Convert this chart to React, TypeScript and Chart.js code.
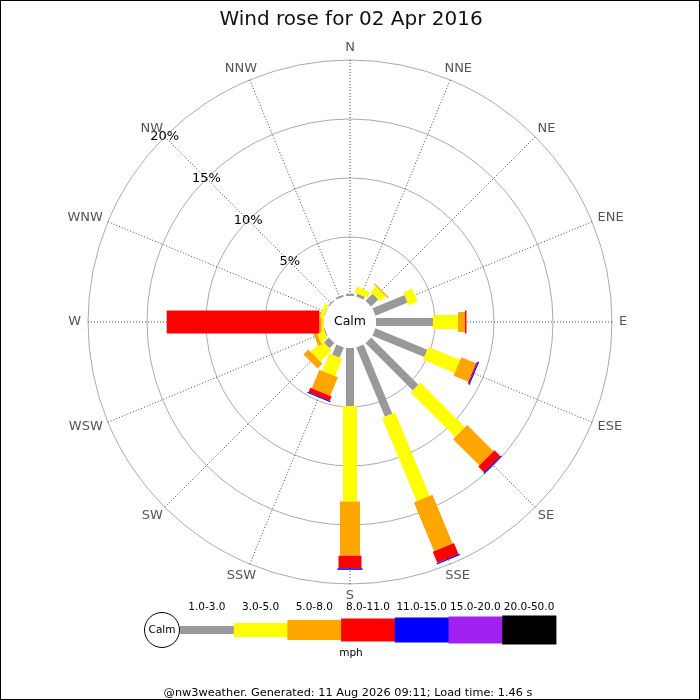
import React, { useEffect, useRef } from "react";
import { Chart, registerables } from "chart.js";

Chart.register(...registerables);

// ---------- data ----------
const DIRECTIONS = ["N", "NNE", "NE", "ENE", "E", "ESE", "SE", "SSE", "S", "SSW", "SW", "WSW", "W", "WNW", "NW", "NNW"];
const SPEED_BANDS = ["1.0-3.0", "3.0-5.0", "5.0-8.0", "8.0-11.0", "11.0-15.0", "15.0-20.0", "20.0-50.0"];
const RING_TICKS = [5, 10, 15, 20];
const TICK_LABEL_DIRECTION = "NW";
const SPEED_UNIT = "mph";
const CALM_LABEL = "Calm";
const TITLE = "Wind rose for 02 Apr 2016";
const FOOTER = "@nw3weather. Generated: 11 Aug 2026 09:11; Load time: 1.46 s";

// percentage of time per direction, per speed band
const BAND_1_3 = [0.2, 0.25, 0.85, 2.95, 4.83, 4.75, 5.66, 6.35, 4.92, 0.94, 0.6, 0.1, 0.05, 0.05, 0.1, 0.15];
const BAND_3_5 = [0, 0.55, 0.65, 0.8, 2.12, 2.9, 5.34, 7.65, 8.08, 1.58, 1.35, 0.65, 0.15, 0.3, 0, 0];
const BAND_5_8 = [0, 0, 0.1, 0, 0.59, 1.35, 3.15, 4.47, 4.6, 1.71, 0.58, 0.3, 0.2, 0, 0, 0];
const BAND_8_11 = [0, 0, 0, 0, 0.13, 0.1, 0.7, 1.03, 1.07, 0.41, 0, 0, 12.93, 0, 0, 0];
const BAND_11_15 = [0, 0, 0, 0, 0, 0.1, 0.1, 0.1, 0.13, 0.08, 0, 0, 0, 0, 0, 0];
const BAND_15_20 = [0, 0, 0, 0, 0, 0, 0, 0, 0, 0, 0, 0, 0, 0, 0, 0];
const BAND_20_50 = [0, 0, 0, 0, 0, 0, 0, 0, 0, 0, 0, 0, 0, 0, 0, 0];

const BAND_VALUES = [BAND_1_3, BAND_3_5, BAND_5_8, BAND_8_11, BAND_11_15, BAND_15_20, BAND_20_50];

// ---------- styles ----------
const BAND_COLORS = ["#999999", "#ffff00", "#ffa500", "#ff0000", "#0000ff", "#a020f0", "#000000"];
const BAND_WIDTHS = [8, 14, 20, 23, 25, 27, 29];
const FONT = "'DejaVu Sans', sans-serif";

const roseDrawer = {
  id: "roseDrawer",
  afterDatasetsDraw(chart: any) {
    const ctx = chart.ctx;
    const s = chart.scales.r;
    const r0 = s.getDistanceFromCenterForValue(0);
    ctx.save();
    // calm disc
    ctx.fillStyle = "#ffffff";
    ctx.beginPath();
    ctx.arc(s.xCenter, s.yCenter, r0 - 0.5, 0, Math.PI * 2);
    ctx.fill();
    // bars
    ctx.lineCap = "butt";
    chart.data.labels.forEach((_: any, i: number) => {
      let cum = 0;
      chart.data.datasets.forEach((ds: any) => {
        const v = ds.data[i];
        if (!v) return;
        const a = s.getPointPosition(i, s.getDistanceFromCenterForValue(cum));
        const b = s.getPointPosition(i, s.getDistanceFromCenterForValue(cum + v));
        ctx.strokeStyle = ds.roseColor;
        ctx.lineWidth = ds.roseWidth;
        ctx.beginPath();
        ctx.moveTo(a.x, a.y);
        ctx.lineTo(b.x, b.y);
        ctx.stroke();
        cum += v;
      });
    });
    // calm text
    ctx.fillStyle = "#000";
    ctx.font = `12.5px ${FONT}`;
    ctx.textAlign = "center";
    ctx.textBaseline = "middle";
    ctx.fillText(CALM_LABEL, s.xCenter, s.yCenter);
    ctx.restore();
  },
  afterDraw(chart: any) {
    const ctx = chart.ctx;
    const s = chart.scales.r;
    ctx.save();

    // ring tick labels along NW spoke
    const ti = DIRECTIONS.indexOf(TICK_LABEL_DIRECTION);
    ctx.font = `13px ${FONT}`;
    ctx.fillStyle = "#000";
    ctx.textAlign = "center";
    ctx.textBaseline = "middle";
    RING_TICKS.forEach((v) => {
      const p = s.getPointPosition(ti, s.getDistanceFromCenterForValue(v));
      ctx.fillText(v + "%", p.x, p.y);
    });

    // compass labels
    ctx.fillStyle = "#555";
    DIRECTIONS.forEach((d, i) => {
      const end = s.getPointPosition(i, s.drawingArea);
      const th = s.getIndexAngle(i);
      const w = ctx.measureText(d).width;
      const cx = end.x + Math.sin(th) * (7 + w / 2);
      const cy = end.y - Math.cos(th) * 12;
      ctx.fillText(d, cx, cy);
    });

    // title
    ctx.fillStyle = "#111";
    ctx.font = `20px ${FONT}`;
    ctx.textBaseline = "alphabetic";
    ctx.fillText(TITLE, 351, 25);

    // legend
    const lx = 180, ly = 630, seg = 53.7;
    ctx.strokeStyle = "#000";
    ctx.lineWidth = 1;
    ctx.fillStyle = "#fff";
    ctx.beginPath();
    ctx.arc(162, ly, 17.5, 0, Math.PI * 2);
    ctx.fill();
    ctx.stroke();
    ctx.fillStyle = "#000";
    ctx.font = `10.5px ${FONT}`;
    ctx.textBaseline = "middle";
    ctx.fillText(CALM_LABEL, 162, ly);
    SPEED_BANDS.forEach((lab, k) => {
      ctx.fillStyle = BAND_COLORS[k];
      const h = BAND_WIDTHS[k];
      ctx.fillRect(lx + k * seg, ly - h / 2, seg + 0.5, h);
      ctx.fillStyle = "#000";
      ctx.fillText(lab, lx + k * seg + seg / 2, 607);
    });
    ctx.fillText(SPEED_UNIT, 351, 653);

    // footer
    ctx.font = `11.3px ${FONT}`;
    ctx.textBaseline = "alphabetic";
    ctx.fillText(FOOTER, 348, 696);

    // frame
    ctx.strokeStyle = "#000";
    ctx.strokeRect(0.5, 0.5, 699, 699);
    ctx.restore();
  },
};

export default function App() {
  const ref = useRef<HTMLCanvasElement>(null);
  useEffect(() => {
    const chart = new Chart(ref.current as HTMLCanvasElement, {
      type: "radar",
      data: {
        labels: DIRECTIONS,
        datasets: SPEED_BANDS.map((b, k) => ({
          label: b,
          data: BAND_VALUES[k],
          showLine: false,
          fill: false,
          pointRadius: 0,
          pointHoverRadius: 0,
          borderWidth: 0,
          roseColor: BAND_COLORS[k],
          roseWidth: BAND_WIDTHS[k],
        })) as any,
      },
      options: {
        responsive: false,
        animation: false,
        events: [],
        layout: { padding: { left: 88, right: 88, top: 60, bottom: 116 } },
        plugins: {
          legend: { display: false },
          title: { display: false },
          tooltip: { enabled: false },
        },
        scales: {
          r: {
            min: -2.2,
            max: 20,
            startAngle: 0,
            ticks: { display: false },
            afterBuildTicks: (sc: any) => {
              sc.ticks = RING_TICKS.map((v) => ({ value: v }));
            },
            grid: { circular: true, color: "#aaaaaa", lineWidth: 1 },
            angleLines: { display: true, color: "#444444", lineWidth: 1, borderDash: [1, 2] },
            pointLabels: { display: false },
          },
        },
      } as any,
      plugins: [roseDrawer],
    });
    return () => chart.destroy();
  }, []);
  return (
    <div style={{ position: "absolute", left: 0, top: 0, width: 700, height: 700, background: "#fff" }}>
      <canvas ref={ref} width={700} height={700} style={{ display: "block" }} />
    </div>
  );
}
